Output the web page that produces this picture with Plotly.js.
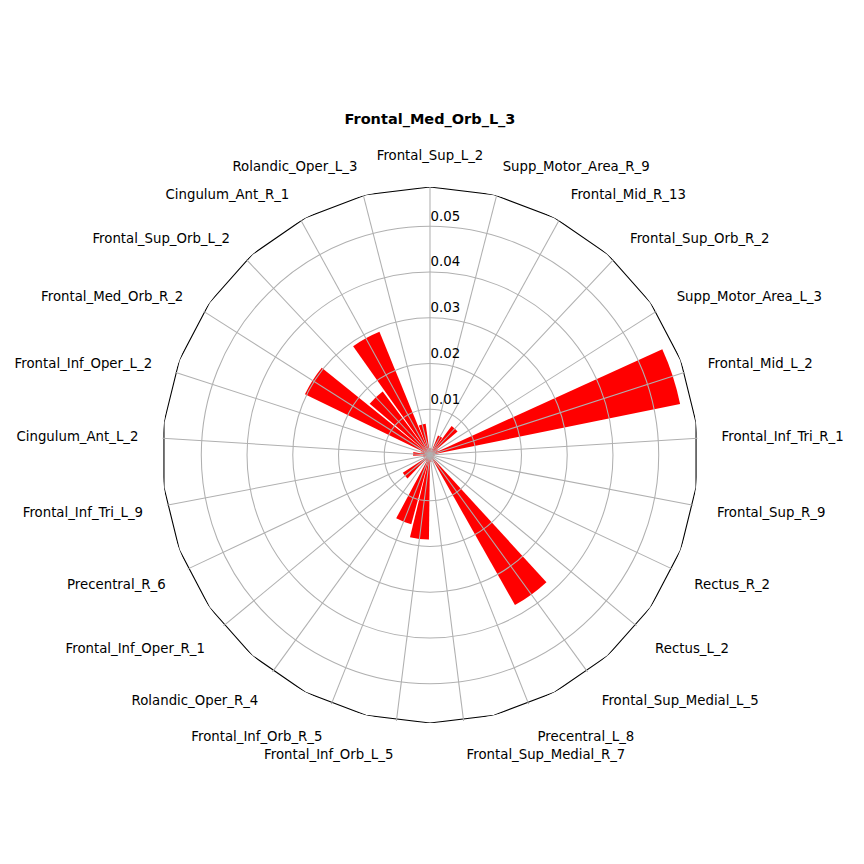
<!DOCTYPE html>
<html>
<head>
<meta charset="utf-8">
<script src="https://cdn.plot.ly/plotly-3.0.1.min.js"></script>
<style>html,body{margin:0;padding:0;background:#fff;}#chart{width:864px;height:864px;}</style>
</head>
<body>
<div id="chart"></div>
<script>
// ---- data ----
const chartTitle = "Frontal_Med_Orb_L_3";
const categories = [
  "Frontal_Sup_L_2", "Supp_Motor_Area_R_9", "Frontal_Mid_R_13", "Frontal_Sup_Orb_R_2",
  "Supp_Motor_Area_L_3", "Frontal_Mid_L_2", "Frontal_Inf_Tri_R_1", "Frontal_Sup_R_9",
  "Rectus_R_2", "Rectus_L_2", "Frontal_Sup_Medial_L_5", "Precentral_L_8",
  "Frontal_Sup_Medial_R_7", "Frontal_Inf_Orb_L_5", "Frontal_Inf_Orb_R_5", "Rolandic_Oper_R_4",
  "Frontal_Inf_Oper_R_1", "Precentral_R_6", "Frontal_Inf_Tri_L_9", "Cingulum_Ant_L_2",
  "Frontal_Inf_Oper_L_2", "Frontal_Med_Orb_R_2", "Frontal_Sup_Orb_L_2", "Cingulum_Ant_R_1",
  "Rolandic_Oper_L_3"
];
const values = [
  0.0015, 0.0010, 0.0046, 0.0079,
  0.0020, 0.0558, 0.0010, 0.0010,
  0.0008, 0.0010, 0.0377, 0.0010,
  0.0015, 0.0185, 0.0157, 0.0015,
  0.0071, 0.0010, 0.0015, 0.0037,
  0.0020, 0.0304, 0.0173, 0.0291,
  0.0069
];
const radialTicks = [0.01, 0.02, 0.03, 0.04, 0.05];
const radialTickText = ["0.01", "0.02", "0.03", "0.04", "0.05"];

// ---- derived ----
const rMax = Math.max(...values) * 1.05;
const frameSides = categories.length + 1;
const frameTheta = [];
for (let k = 0; k <= frameSides; k++) frameTheta.push(k * 360 / frameSides);
const frameR = frameTheta.map(() => rMax);

const FONT = "DejaVu Sans, sans-serif";
const GRID = "#b0b0b0";
const W = 864, H = 864;
const cx = 430, cy = 455, rad = 268;
const dom = {
  x: [(cx - rad) / W, (cx + rad) / W],
  y: [1 - (cy + rad) / H, 1 - (cy - rad) / H]
};
// radial tick labels sit a little above their circles (matplotlib style)
const labelLift = 10 / H;
const domLabels = {x: dom.x, y: [dom.y[0] + labelLift, dom.y[1] + labelLift]};

const traces = [
  {
    type: "barpolar", subplot: "polar",
    theta: categories, r: values,
    marker: {color: "#ff0000", line: {width: 0}},
    hoverinfo: "skip", showlegend: false
  },
  {
    type: "scatterpolar", subplot: "polar2", mode: "lines",
    theta: frameTheta, r: frameR,
    line: {color: "#000000", width: 1.1},
    hoverinfo: "skip", showlegend: false
  },
  {
    type: "scatterpolar", subplot: "polar3", mode: "markers",
    theta: categories, r: values,
    marker: {opacity: 0, size: 1},
    hoverinfo: "skip", showlegend: false
  },
  {
    type: "scatterpolar", subplot: "polar4", mode: "markers",
    theta: categories, r: values,
    marker: {opacity: 0, size: 1},
    hoverinfo: "skip", showlegend: false
  }
];

const hiddenRadial = {range: [0, rMax], visible: false, showgrid: false, showline: false, showticklabels: false, ticks: ""};
const hiddenCatAngular = {type: "category", categoryarray: categories, direction: "clockwise", rotation: 90,
  showgrid: false, showline: false, showticklabels: false, ticks: ""};

const layout = {
  width: W, height: H,
  margin: {l: 0, r: 0, t: 0, b: 0},
  paper_bgcolor: "#ffffff",
  showlegend: false,
  bargap: 0.2,
  font: {family: FONT, size: 13.3, color: "#000000"},
  title: {
    text: "<b>" + chartTitle + "</b>",
    font: {family: FONT, size: 14.5, color: "#000000"},
    x: 430 / W, xanchor: "center", xref: "paper",
    y: 1 - 119 / H, yanchor: "middle", yref: "container"
  },
  polar: {
    domain: dom, bgcolor: "rgba(0,0,0,0)", gridshape: "circular",
    angularaxis: hiddenCatAngular,
    radialaxis: hiddenRadial
  },
  polar2: {
    domain: dom, bgcolor: "rgba(0,0,0,0)", gridshape: "circular",
    angularaxis: {type: "linear", thetaunit: "degrees", direction: "clockwise", rotation: 90,
      range: [0, 360], visible: false, showgrid: false, showline: false, showticklabels: false, ticks: ""},
    radialaxis: hiddenRadial
  },
  polar3: {
    domain: dom, bgcolor: "rgba(0,0,0,0)", gridshape: "circular",
    angularaxis: {type: "category", categoryarray: categories, direction: "clockwise", rotation: 90,
      showgrid: true, gridcolor: GRID, gridwidth: 1.05, showline: false,
      ticks: "outside", ticklen: 21, tickcolor: "rgba(0,0,0,0)",
      tickfont: {family: FONT, size: 13.3, color: "#000000"}},
    radialaxis: {range: [0, rMax], angle: 90, tickvals: radialTicks,
      showgrid: true, gridcolor: GRID, gridwidth: 1.05, showline: false, ticks: "",
      showticklabels: false}
  },
  polar4: {
    domain: domLabels, bgcolor: "rgba(0,0,0,0)", gridshape: "circular",
    angularaxis: hiddenCatAngular,
    radialaxis: {range: [0, rMax], angle: 90, side: "clockwise", tickangle: 90,
      tickvals: radialTicks, ticktext: radialTickText,
      showgrid: false, showline: false, ticks: "",
      tickfont: {family: FONT, size: 13.3, color: "#000000"}}
  }
};

Plotly.newPlot("chart", traces, layout, {staticPlot: true, displayModeBar: false});
</script>
</body>
</html>
